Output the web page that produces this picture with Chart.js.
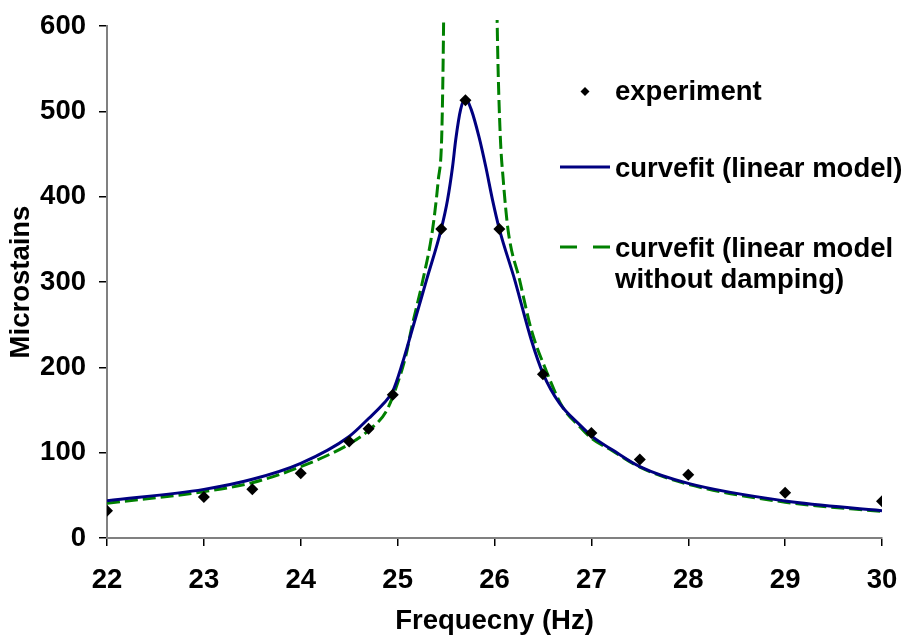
<!DOCTYPE html>
<html>
<head>
<meta charset="utf-8">
<title>Frequency response</title>
<script src="https://cdn.jsdelivr.net/npm/chart.js@4.4.1/dist/chart.umd.min.js"></script>
<style>
  html, body { margin: 0; padding: 0; background: #fff; }
  #chart { display: block; }
</style>
</head>
<body>
<canvas id="chart" width="908" height="635"></canvas>
<script>
// measured strain amplitude vs excitation frequency
const expFreq   = [22, 23, 23.5, 24, 24.5, 24.7, 24.95, 25.45, 25.7, 26.05, 26.5, 27, 27.5, 28, 29, 30];
const expStrain = [32, 48, 57, 76, 113, 128, 168, 362, 513, 362, 192, 123, 92, 74, 53, 43];

// fitted response, linear model with damping
const fitFreq   = [22, 23, 23.5, 24, 24.5, 24.7, 24.85, 24.95, 25.05, 25.15, 25.3, 25.45, 25.515, 25.567, 25.6, 25.65, 25.7,
                   25.76, 25.84, 25.91, 25.98, 26.05, 26.21, 26.38, 26.5, 26.67, 26.88, 27.01, 27.22, 27.5, 28, 29, 30];
const fitStrain = [43.7, 57, 68.8, 87.5, 119, 140, 157, 172, 205, 244, 303, 362, 396, 435, 467, 502, 515,
                   502, 470, 435, 396, 362, 302, 232, 193, 158, 132.5, 118.8, 103, 83.6, 64, 43.4, 32];

// fitted response, undamped model (goes to infinity at resonance, split in two branches)
const undampedLoFreq   = [22, 23, 23.5, 24, 24.5, 24.7, 24.88, 24.98, 25.09, 25.14, 25.26, 25.36, 25.42, 25.455, 25.47, 25.478];
const undampedLoStrain = [40.6, 54.3, 64.8, 83.6, 110, 126, 148, 175, 216, 244, 302, 361, 420, 470, 560, 640];
const undampedHiFreq   = [26.022, 26.035, 26.06, 26.09, 26.14, 26.26, 26.38, 26.53, 26.7, 26.88, 27, 27.22, 27.5, 28, 29, 30];
const undampedHiStrain = [640, 560, 470, 420, 361, 302, 244, 197, 154, 130.5, 117, 102, 83, 63, 42, 31];

const xTicks = [22, 23, 24, 25, 26, 27, 28, 29, 30];
const yTicks = [0, 100, 200, 300, 400, 500, 600];

const FONT = '"Liberation Sans", Arial, Helvetica, sans-serif';
const FONT_SIZE = 27.5;
const NAVY = '#000080';
const GREEN = '#008000';

const pts = (xs, ys) => xs.map((x, i) => ({ x, y: ys[i] }));
const boldFont = { family: FONT, size: FONT_SIZE, weight: 'bold' };

// legend drawn inside the plot, to the right of the peak
const sideLegend = {
    id: 'sideLegend',
    afterDraw(chart) {
        const ctx = chart.ctx;
        ctx.save();
        ctx.font = `bold ${FONT_SIZE}px ${FONT}`;
        ctx.fillStyle = '#000';
        ctx.textBaseline = 'alphabetic';
        ctx.textAlign = 'left';

        // diamond marker
        ctx.beginPath();
        ctx.moveTo(585, 87); ctx.lineTo(589.5, 91.5); ctx.lineTo(585, 96); ctx.lineTo(580.5, 91.5);
        ctx.closePath();
        ctx.fill();
        ctx.fillText('experiment', 615, 100);

        ctx.lineWidth = 3;
        ctx.strokeStyle = NAVY;
        ctx.beginPath(); ctx.moveTo(560, 167); ctx.lineTo(610, 167); ctx.stroke();
        ctx.fillText('curvefit (linear model)', 615, 177);

        ctx.strokeStyle = GREEN;
        ctx.setLineDash([17, 16]);
        ctx.beginPath(); ctx.moveTo(560, 247); ctx.lineTo(610, 247); ctx.stroke();
        ctx.setLineDash([]);
        ctx.fillText('curvefit (linear model', 615, 257);
        ctx.fillText('without damping)', 615, 288);
        ctx.restore();
    }
};

const dashed = {
    showLine: true, borderColor: GREEN, borderWidth: 3, borderDash: [13, 5],
    pointRadius: 0, cubicInterpolationMode: 'monotone', order: 3,
    clip: { left: 0, top: 6, right: 0, bottom: 0 }
};

new Chart(document.getElementById('chart'), {
    type: 'scatter',
    data: {
        datasets: [
            Object.assign({ label: 'curvefit (linear model without damping)',
                            data: pts(undampedLoFreq, undampedLoStrain) }, dashed),
            Object.assign({ label: 'curvefit (linear model without damping), upper branch',
                            data: pts(undampedHiFreq, undampedHiStrain) }, dashed),
            {
                label: 'curvefit (linear model)',
                data: pts(fitFreq, fitStrain),
                showLine: true, borderColor: NAVY, borderWidth: 3,
                pointRadius: 0, cubicInterpolationMode: 'monotone', order: 2
            },
            {
                label: 'experiment',
                data: pts(expFreq, expStrain),
                showLine: false, pointStyle: 'rectRot', pointRadius: 6,
                backgroundColor: '#000', borderColor: '#000', borderWidth: 0, order: 1
            }
        ]
    },
    options: {
        responsive: false,
        animation: false,
        layout: { padding: { top: 26, right: 26, left: 0, bottom: 0 } },
        plugins: { legend: { display: false }, tooltip: { enabled: false } },
        scales: {
            x: {
                type: 'linear', min: 22, max: 30,
                afterBuildTicks: s => { s.ticks = xTicks.map(v => ({ value: v })); },
                afterFit: s => { s.height = 97; s.paddingLeft = 0; s.paddingRight = 0; },
                border: { color: '#808080', width: 2 },
                grid: { drawOnChartArea: false, drawTicks: true, tickLength: 8, color: '#000', lineWidth: 1.5 },
                ticks: { color: '#000', padding: 18, font: boldFont },
                title: { display: true, text: 'Frequecny (Hz)', color: '#000', padding: { top: 7, bottom: -3 }, font: boldFont }
            },
            y: {
                type: 'linear', min: 0, max: 600,
                afterBuildTicks: s => { s.ticks = yTicks.map(v => ({ value: v })); },
                afterFit: s => { s.width = 107; s.paddingTop = 0; s.paddingBottom = 0; },
                border: { color: '#808080', width: 2 },
                grid: { drawOnChartArea: false, drawTicks: true, tickLength: 8, color: '#000', lineWidth: 1.5 },
                ticks: { color: '#000', padding: 13, font: boldFont },
                title: { display: true, text: 'Microstains', color: '#000', padding: { top: 5 }, font: boldFont }
            }
        }
    },
    plugins: [sideLegend]
});
</script>
</body>
</html>
